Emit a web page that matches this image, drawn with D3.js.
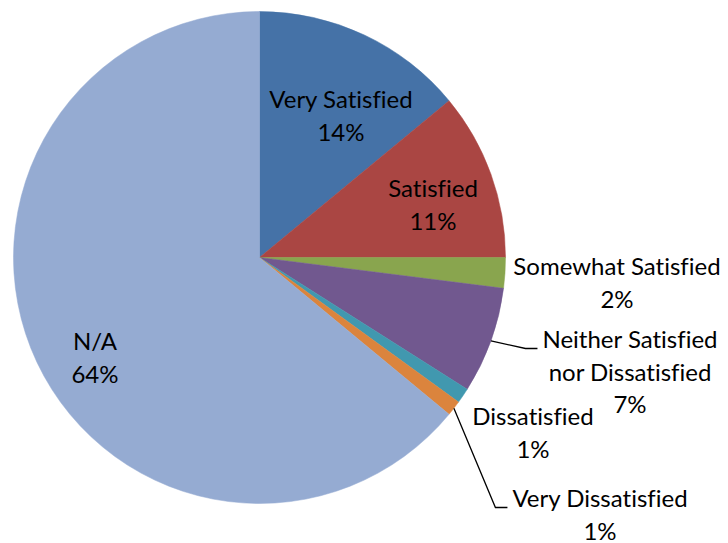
<!DOCTYPE html>
<html>
<head>
<meta charset="utf-8">
<script src="https://cdn.jsdelivr.net/npm/d3@7/dist/d3.min.js"></script>
<style>
  html, body { margin: 0; padding: 0; background: #ffffff; }
  svg { display: block; }
  text { font-family: Lato, "Open Sans", sans-serif; fill: #000; font-variant-ligatures: none; }
</style>
</head>
<body>
<svg id="chart" width="728" height="543"></svg>
<script>
// Survey responses, share of respondents (%)
const categories = ["Very Satisfied", "Satisfied", "Somewhat Satisfied",
  "Neither Satisfied nor Dissatisfied", "Dissatisfied", "Very Dissatisfied", "N/A"];
const values = [14, 11, 2, 7, 1, 1, 64];
const colors = ["#4572A7", "#AA4643", "#89A54E", "#71588F", "#4198AF", "#DB843D", "#95ABD2"];

// Label lines per category (name lines, then the percentage)
const labelLines = [
  ["Very Satisfied"], ["Satisfied"], ["Somewhat Satisfied"],
  ["Neither Satisfied", "nor Dissatisfied"], ["Dissatisfied"],
  ["Very Dissatisfied"], ["N/A"]
];
// Label anchor points (center x, first baseline y) and leader-line usage
const labelPos = [
  [341, 108], [433, 197], [617, 275], [630, 348], [533, 425], [600, 507], [95, 350]
];
const hasLeader = [false, false, false, true, false, true, false];

const cx = 259.5, cy = 257.5, r = 246;
const fontSize = 24;
const lineH = 32.5;

const svg = d3.select("#chart");
const g = svg.append("g").attr("transform", `translate(${cx},${cy})`);

const pie = d3.pie().sort(null).value(d => d.v);
const data = categories.map((c, i) => ({ c, v: values[i], i }));
const arcs = pie(data);
const arc = d3.arc().innerRadius(0).outerRadius(r);

g.selectAll("path.slice")
  .data(arcs)
  .join("path")
  .attr("class", "slice")
  .attr("d", arc)
  .attr("fill", d => colors[d.data.i])
  .attr("stroke", d => colors[d.data.i])
  .attr("stroke-width", 0.5);

const fmt = v => `${Math.round(v)}%`;

function measure(str) {
  const t = svg.append("text").attr("font-size", fontSize).text(str);
  const w = t.node().getComputedTextLength();
  t.remove();
  return w;
}

// Leader lines: from the slice's outer edge, angled to the label, then a short horizontal tick
arcs.forEach(a => {
  const i = a.data.i;
  if (!hasLeader[i]) return;
  const mid = (a.startAngle + a.endAngle) / 2;
  const ex = cx + Math.sin(mid) * r;
  const ey = cy - Math.cos(mid) * r;
  const [lx, ly] = labelPos[i];
  const textW = measure(labelLines[i][0]);
  const endX = lx - textW / 2 - 5;
  const knee = endX - 12;
  const y = ly + 0.5;
  svg.append("polyline")
    .attr("points", `${ex},${ey} ${knee},${y} ${endX},${y}`)
    .attr("fill", "none")
    .attr("stroke", "#000")
    .attr("stroke-width", 1.3);
});

// Labels
arcs.forEach(a => {
  const i = a.data.i;
  const [lx, ly] = labelPos[i];
  const lines = labelLines[i].concat([fmt(values[i])]);
  const t = svg.append("text")
    .attr("text-anchor", "middle")
    .attr("font-size", fontSize);
  lines.forEach((s, k) => {
    t.append("tspan").attr("x", lx).attr("y", ly + k * lineH).text(s);
  });
});
</script>
</body>
</html>
